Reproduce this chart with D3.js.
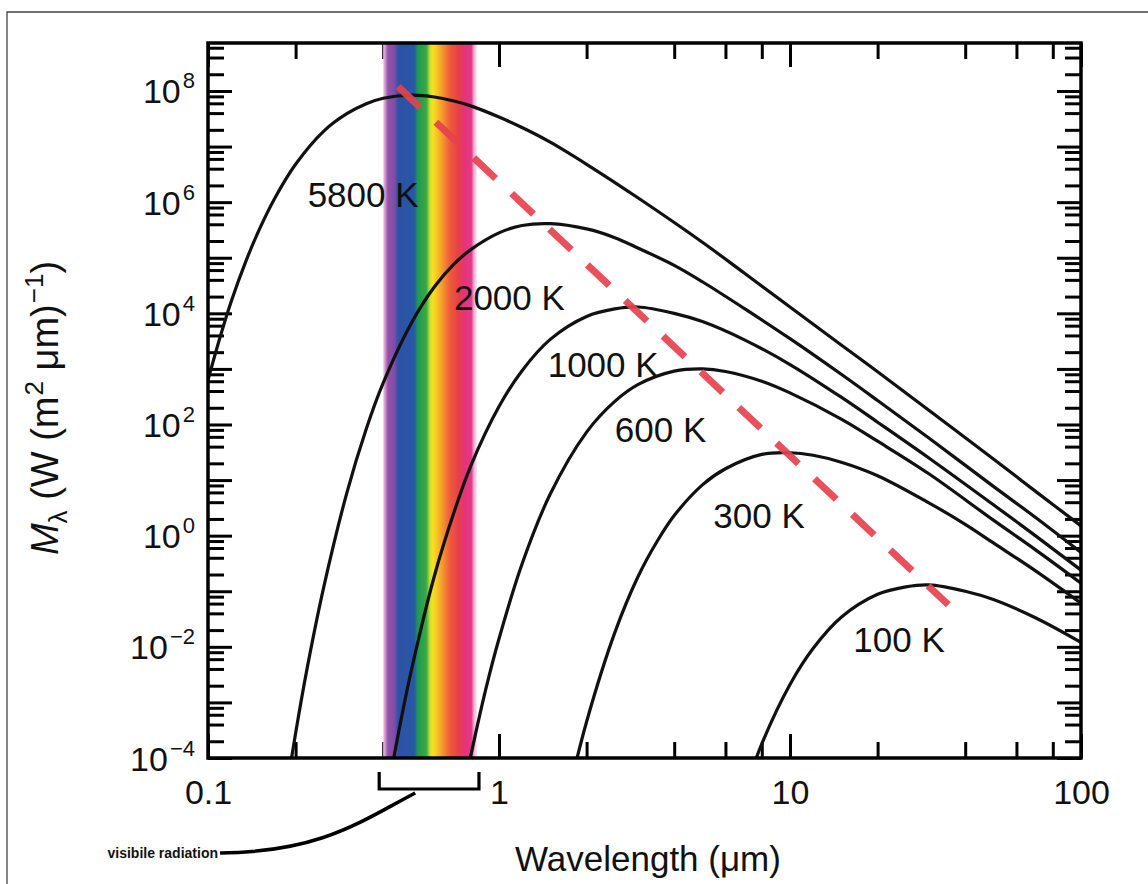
<!DOCTYPE html>
<html>
<head>
<meta charset="utf-8">
<script src="https://cdn.jsdelivr.net/npm/d3@7"></script>
<style>
  body { margin: 0; background: #fff; }
  svg { display: block; font-family: "Liberation Sans", Arial, Helvetica, sans-serif; }
</style>
</head>
<body>
<script>

// wavelength (um) and spectral exitance M (W m^-2 um^-1)
var wl5800 = [0.1, 0.11, 0.12, 0.135, 0.15, 0.17, 0.2, 0.25, 0.3, 0.35, 0.4, 0.5, 0.6, 0.7, 0.8, 1, 1.2, 1.5, 2, 3, 5, 7, 10, 15, 20, 30, 50, 70, 100];
var m5800  = [6.3e2, 3.7e3, 1.6e4, 8.7e4, 3.2e5, 1.2e6, 4.8e6, 1.9e7, 3.9e7, 5.9e7, 7.4e7, 8.4e7, 7.8e7, 6.6e7, 5.4e7, 3.4e7, 2.2e7, 1.2e7, 4.8e6, 1.2e6, 1.9e5, 5.2e4, 1.3e4, 2.7e3, 8.9e2, 1.8e2, 24, 6.2, 1.5];

var wl2000 = [0.18, 0.2, 0.22, 0.25, 0.3, 0.35, 0.4, 0.5, 0.6, 0.7, 0.8, 1, 1.2, 1.5, 2, 2.5, 3, 4, 5, 7, 10, 15, 20, 30, 50, 70, 100];
var m2000  = [8.7e-6, 2.8e-4, 4.6e-3, 0.12, 5.9, 84, 5.6e2, 6.7e3, 3.0e4, 7.7e4, 1.4e5, 2.8e5, 3.8e5, 4.1e5, 3.3e5, 2.3e5, 1.5e5, 7.3e4, 3.7e4, 1.2e4, 3.5e3, 8.0e2, 2.7e2, 57, 7.7, 2.1, 0.50];

var wl1000 = [0.4, 0.45, 0.5, 0.6, 0.7, 0.8, 1, 1.2, 1.5, 2, 2.5, 3, 4, 5, 7, 10, 15, 20, 30, 50, 70, 100];
var m1000  = [8.7e-6, 2.6e-4, 3.8e-3, 0.19, 2.6, 18, 2.1e2, 9.3e2, 3.4e3, 8.8e3, 1.2e4, 1.3e4, 1.0e4, 7.1e3, 3.3e3, 1.2e3, 3.1e2, 1.1e2, 25, 3.6, 0.98, 0.24];

var wl600 = [0.75, 0.8, 0.9, 1, 1.2, 1.5, 2, 2.5, 3, 4, 5, 6, 8, 10, 15, 20, 30, 50, 70, 100];
var m600  = [2.1e-5, 1.1e-4, 1.7e-3, 1.4e-2, 0.31, 5.6, 73, 2.6e2, 5.2e2, 9.1e2, 1.0e3, 9.0e2, 6.0e2, 3.7e2, 1.25e2, 50, 13, 1.9, 0.55, 0.14];

var wl300 = [1.7, 2, 2.5, 3, 3.5, 4, 5, 6, 8, 10, 12, 15, 20, 30, 40, 50, 70, 100];
var m300  = [1.5e-5, 4.5e-4, 1.8e-2, 0.18, 0.80, 2.3, 8.2, 16, 29, 31, 28, 21, 12, 3.9, 1.6, 0.74, 0.23, 0.061];

var wl100 = [7, 8, 10, 12, 15, 20, 25, 30, 40, 50, 70, 100];
var m100  = [2.6e-5, 1.8e-4, 2.1e-3, 9.3e-3, 3.4e-2, 8.8e-2, 0.12, 0.13, 0.10, 7.1e-2, 3.3e-2, 1.2e-2];

var curveNames = ["5800 K", "2000 K", "1000 K", "600 K", "300 K", "100 K"];
var curveWl = [wl5800, wl2000, wl1000, wl600, wl300, wl100];
var curveM  = [m5800, m2000, m1000, m600, m300, m100];

// where each temperature label sits (wavelength, M)
var labelWl = [0.22, 0.7, 1.47, 2.5, 5.45, 16.5];
var labelM  = [8.2e5, 1.15e4, 720, 48, 1.4, 8e-3];

// red dashed line through the peaks (ends)
var peakWl = [0.45, 35];
var peakM  = [1.2e8, 5.7e-2];

// visible band (um)
var visibleBand = [0.4, 0.84];

// ticks
var xMajor = [0.1, 1, 10, 100];
var xTickLabels = ["0.1", "1", "10", "100"];
var xMinor = [0.2, 0.4, 0.6, 0.8, 2, 4, 6, 8, 20, 40, 60, 80];
var yDecades = [-4, -3, -2, -1, 0, 1, 2, 3, 4, 5, 6, 7, 8];
var yLabelExps = [8, 6, 4, 2, 0, -2, -4];
var minorMult = [2, 4, 6, 8];


var width = 1148, height = 884;
var plot = {left: 208, right: 1081, top: 43, bottom: 758};

var svg = d3.select("body").append("svg")
	.attr("width", width)
	.attr("height", height);

var x = d3.scaleLog().domain([0.1, 100]).range([plot.left, plot.right]);
var y = d3.scaleLog().domain([1e-4, 7.3e8]).range([plot.bottom, plot.top]);

var yMajor = yDecades.map(function(e){ return Math.pow(10, e); });
var yMinor = [];
yDecades.forEach(function(e){
	minorMult.forEach(function(m){
		var v = m * Math.pow(10, e);
		if (v < y.domain()[1]) yMinor.push(v);
	});
});

// thin outer frame of the picture (top and left edges)
svg.append("path")
	.attr("d", "M7," + height + "V12H" + width)
	.attr("fill", "none")
	.attr("stroke", "#444")
	.attr("stroke-width", 1.3);

var defs = svg.append("defs");
defs.append("clipPath").attr("id", "plotClip")
	.append("rect")
	.attr("x", plot.left).attr("y", plot.top)
	.attr("width", plot.right - plot.left)
	.attr("height", plot.bottom - plot.top);

// spectrum colours across the visible band
var spectrumStops = [
	[0, "#f4cdea"], [0.025, "#c98cc8"], [0.05, "#9552a8"], [0.12, "#7e4ea8"],
	[0.16, "#2e52a4"], [0.33, "#2857a8"], [0.37, "#1e9a50"], [0.46, "#3aa846"],
	[0.50, "#cfe030"], [0.53, "#f7e21e"], [0.58, "#f8bf27"], [0.64, "#f3922f"],
	[0.71, "#ee5c3a"], [0.80, "#e8404a"], [0.87, "#e5337a"], [0.94, "#e23a88"],
	[0.97, "#efb2d6"], [1, "#fbe6f2"]
];
var grad = defs.append("linearGradient").attr("id", "spectrum")
	.attr("x1", 0).attr("x2", 1).attr("y1", 0).attr("y2", 0);
grad.selectAll("stop").data(spectrumStops).enter().append("stop")
	.attr("offset", function(d){ return d[0]; })
	.attr("stop-color", function(d){ return d[1]; });

// ticks, all pointing inward on the four sides
function drawTicks(axis, transform){
	var g = svg.append("g").attr("transform", transform).call(axis);
	g.select(".domain").remove();
	g.selectAll("line").attr("stroke", "#000").attr("stroke-width", 3);
}
var bottomT = "translate(0," + plot.bottom + ")", topT = "translate(0," + plot.top + ")";
var leftT = "translate(" + plot.left + ",0)", rightT = "translate(" + plot.right + ",0)";
drawTicks(d3.axisBottom(x).tickValues(xMajor).tickSize(-24).tickFormat(""), bottomT);
drawTicks(d3.axisBottom(x).tickValues(xMinor).tickSize(-16).tickFormat(""), bottomT);
drawTicks(d3.axisTop(x).tickValues(xMajor).tickSize(-24).tickFormat(""), topT);
drawTicks(d3.axisTop(x).tickValues(xMinor).tickSize(-16).tickFormat(""), topT);
drawTicks(d3.axisLeft(y).tickValues(yMajor).tickSize(-24).tickFormat(""), leftT);
drawTicks(d3.axisLeft(y).tickValues(yMinor).tickSize(-16).tickFormat(""), leftT);
drawTicks(d3.axisRight(y).tickValues(yMajor).tickSize(-24).tickFormat(""), rightT);
drawTicks(d3.axisRight(y).tickValues(yMinor).tickSize(-16).tickFormat(""), rightT);

// visible band
svg.append("rect")
	.attr("x", x(visibleBand[0]))
	.attr("width", x(visibleBand[1]) - x(visibleBand[0]))
	.attr("y", plot.top)
	.attr("height", plot.bottom - plot.top)
	.attr("fill", "url(#spectrum)");

// blackbody curves
var line = d3.line()
	.curve(d3.curveCatmullRom.alpha(0.5))
	.x(function(d){ return x(d[0]); })
	.y(function(d){ return y(d[1]); });

var curves = svg.append("g").attr("clip-path", "url(#plotClip)");
curves.selectAll(".bb")
	.data(curveWl.map(function(wls, i){
		return wls.map(function(w, j){ return [w, curveM[i][j]]; });
	}))
	.enter().append("path")
	.attr("class", "bb")
	.attr("d", line)
	.attr("fill", "none")
	.attr("stroke", "#111")
	.attr("stroke-width", 3.2);

// peak line
curves.append("path")
	.attr("d", d3.line().x(function(d){ return x(d[0]); }).y(function(d){ return y(d[1]); })(
		peakWl.map(function(w, i){ return [w, peakM[i]]; })))
	.attr("fill", "none")
	.attr("stroke", "#e6414e")
	.attr("stroke-width", 7)
	.attr("stroke-dasharray", "30,22")
	.attr("opacity", 0.92);

// plot frame
svg.append("rect")
	.attr("x", plot.left).attr("y", plot.top)
	.attr("width", plot.right - plot.left)
	.attr("height", plot.bottom - plot.top)
	.attr("fill", "none")
	.attr("stroke", "#000")
	.attr("stroke-width", 3.5);

// tick labels
var xLab = svg.append("g").attr("transform", bottomT)
	.call(d3.axisBottom(x).tickValues(xMajor).tickSize(0).tickPadding(22)
		.tickFormat(function(d, i){ return xTickLabels[i]; }));
xLab.select(".domain").remove();
xLab.attr("font-size", 34).attr("font-family", null);
xLab.selectAll("text").attr("fill", "#111");

var yLab = svg.append("g").attr("transform", leftT)
	.call(d3.axisLeft(y).tickValues(yLabelExps.map(function(e){ return Math.pow(10, e); }))
		.tickSize(0).tickPadding(13).tickFormat(""));
yLab.select(".domain").remove();
yLab.attr("font-size", 34).attr("font-family", null);
yLab.selectAll("text")
	.attr("dy", null)
	.attr("y", 12)
	.attr("fill", "#111")
	.each(function(d, i){
		var t = d3.select(this);
		var e = yLabelExps[i];
		t.append("tspan").text("10");
		t.append("tspan").attr("dy", -15).attr("dx", 2).attr("font-size", 22)
			.text(e < 0 ? "\u2212" + (-e) : "" + e);
	});

// temperature labels
svg.selectAll(".tlabel")
	.data(curveNames)
	.enter().append("text")
	.attr("class", "tlabel")
	.attr("x", function(d, i){ return x(labelWl[i]); })
	.attr("y", function(d, i){ return y(labelM[i]); })
	.attr("font-size", 35)
	.attr("fill", "#111")
	.text(function(d){ return d; });

// axis titles
svg.append("text")
	.attr("x", 648).attr("y", 871)
	.attr("text-anchor", "middle")
	.attr("font-size", 35)
	.attr("fill", "#111")
	.text("Wavelength (\u03bcm)");

var yt = svg.append("text")
	.attr("transform", "translate(58,408) rotate(-90)")
	.attr("text-anchor", "middle")
	.attr("font-size", 38)
	.attr("fill", "#111");
yt.append("tspan").attr("font-style", "italic").text("M");
yt.append("tspan").attr("dy", 9).attr("font-size", 26).text("\u03bb");
yt.append("tspan").attr("dy", -9).text(" (W (m");
yt.append("tspan").attr("dy", -15).attr("dx", 1).attr("font-size", 26).text("2");
yt.append("tspan").attr("dy", 15).text(" \u03bcm)");
yt.append("tspan").attr("dy", -15).attr("dx", 1).attr("font-size", 26).text("\u22121");
yt.append("tspan").attr("dy", 15).text(")");

// visible radiation bracket and note
var bx0 = x(visibleBand[0]) - 4, bx1 = x(visibleBand[1]) + 2;
svg.append("path")
	.attr("d", "M" + bx0 + ",772V789H" + bx1 + "V772")
	.attr("fill", "none")
	.attr("stroke", "#000")
	.attr("stroke-width", 3.2);
svg.append("path")
	.attr("d", "M" + (bx0 + 36) + ",793C360,822 320,852 220,853")
	.attr("fill", "none")
	.attr("stroke", "#000")
	.attr("stroke-width", 3.5);
svg.append("text")
	.attr("x", 218).attr("y", 858)
	.attr("text-anchor", "end")
	.attr("font-size", 14)
	.attr("font-weight", "bold")
	.attr("fill", "#111")
	.text("visibile radiation");

</script>
</body>
</html>
